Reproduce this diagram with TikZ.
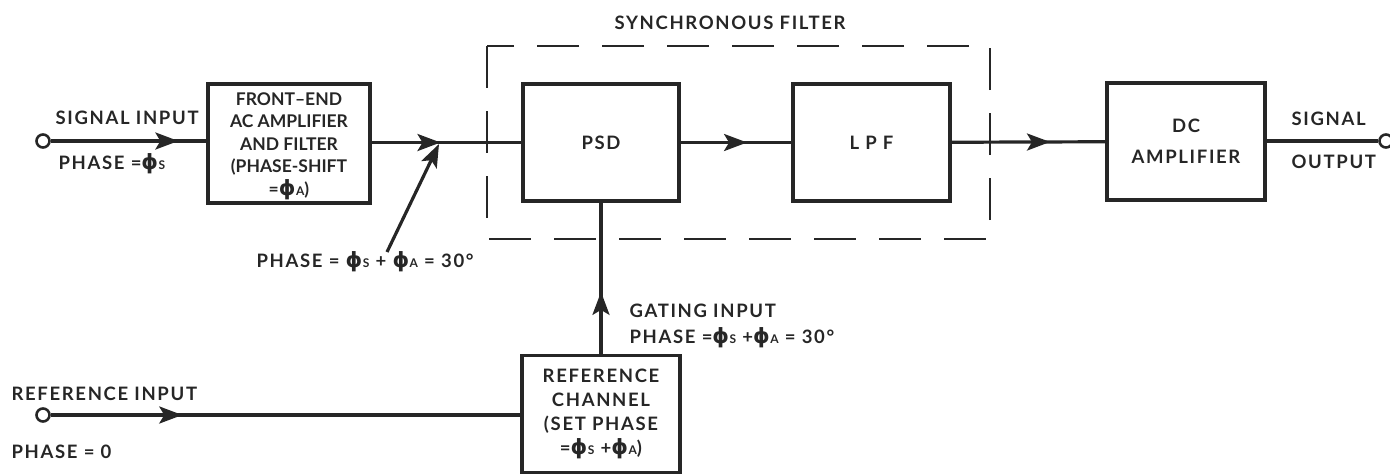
\documentclass[tikz,border=0pt]{standalone}
\usepackage{fontspec}
\setmainfont{Lato}[LetterSpace=9]
\newfontfamily\tightfont{Lato}
\newfontfamily\phifont{DejaVu Sans}
\usetikzlibrary{arrows.meta,decorations.markings}
\newcommand{\phig}{{\phifont\fontsize{21}{21}\selectfont ϕ}}
\newcommand{\ps}{\phig\kern0.5pt{\fontsize{12}{12}\selectfont S}}
\newcommand{\pa}{\phig\kern0.5pt{\fontsize{12}{12}\selectfont A}}
\tikzset{tip/.tip={Stealth[length=23pt,width=17pt,inset=5pt]}}
\begin{document}
\begin{tikzpicture}[x=1pt,y=-1pt,
  font=\fontsize{18.5}{23}\selectfont\bfseries,
  line width=3.2pt, color=black!85,
  blk/.style={draw, rectangle, align=center, inner sep=0pt},
  term/.style={draw, circle, minimum size=13pt, inner sep=0pt, line width=2.6pt},
  lbl/.style={inner sep=0pt, anchor=west},
  midarrow/.style={postaction={decorate},decoration={markings,mark=at position #1 with {\arrow{tip}}}}
]
\useasboundingbox (0,0) rectangle (1390,475);
% blocks
\node[blk, minimum width=162pt, minimum height=119pt] (fe) at (289,143.5) {};
\node[font=\tightfont\fontsize{17.5}{22.5}\selectfont\bfseries, align=center] (fet) at (289,146) {FRONT–END\\AC AMPLIFIER\\AND FILTER\\(PHASE-SHIFT\\=\pa)};
\node[blk, minimum width=156pt, minimum height=117pt] (psd) at (601,142.5) {PSD};
\node[blk, minimum width=157pt, minimum height=117pt] (lpf) at (871.5,142.5) {L P F};
\node[blk, minimum width=158pt, minimum height=117pt, align=center, font=\fontsize{18.5}{31}\selectfont\bfseries] (dc) at (1186,141.5) {DC\\AMPLIFIER};
\node[blk, minimum width=158pt, minimum height=117pt, align=center, font=\fontsize{18.5}{24}\selectfont\bfseries] (ref) at (601,414) {REFERENCE\\CHANNEL\\(SET PHASE\\=\ps\ +\pa)};
% dashed synchronous filter
\draw[dash pattern=on 42pt off 23pt, line width=2.8pt] (487,46) rectangle (990,239);
\node (sfl) at (730,23) {SYNCHRONOUS FILTER};
% terminals
\node[term] (sin) at (43,141) {};
\node[term] (rin) at (43,415) {};
\node[term] (sout) at (1386,141) {};
% labels
\node[lbl] (l1) at (54,118) {SIGNAL INPUT};
\node[lbl] (l2) at (57,164) {PHASE =\ps};
\node[lbl] (l3) at (255,262) {PHASE = \ps\ + \pa\ = 30°};
\node[lbl] (l4) at (1290,119) {SIGNAL};
\node[lbl] (l5) at (1290,162) {OUTPUT};
\node[lbl] (l6) at (628,311) {GATING INPUT};
\node[lbl] (l7) at (628,338) {PHASE =\ps\ +\pa\ = 30°};
\node[lbl] (l8) at (10,394) {REFERENCE INPUT};
\node[lbl] (l9) at (10,452) {PHASE = 0};
% connectors
\draw[midarrow=0.82] (sin) -- (fe.west |- sin);
\draw[midarrow=0.46] (fe.east |- psd) -- (psd.west);
\draw[midarrow=0.6] (psd) -- (lpf);
\draw[midarrow=0.64] (lpf) -- (dc);
\draw (dc.east |- sout) -- (sout);
\draw[midarrow=0.28] (rin) -- (ref.west |- rin);
\draw[midarrow=0.41] (ref.north) -- (psd.south);
\coordinate (j) at (439,144);
\coordinate (ds) at (387,252);
\draw[-tip] (ds) -- (j);
\end{tikzpicture}
\end{document}
